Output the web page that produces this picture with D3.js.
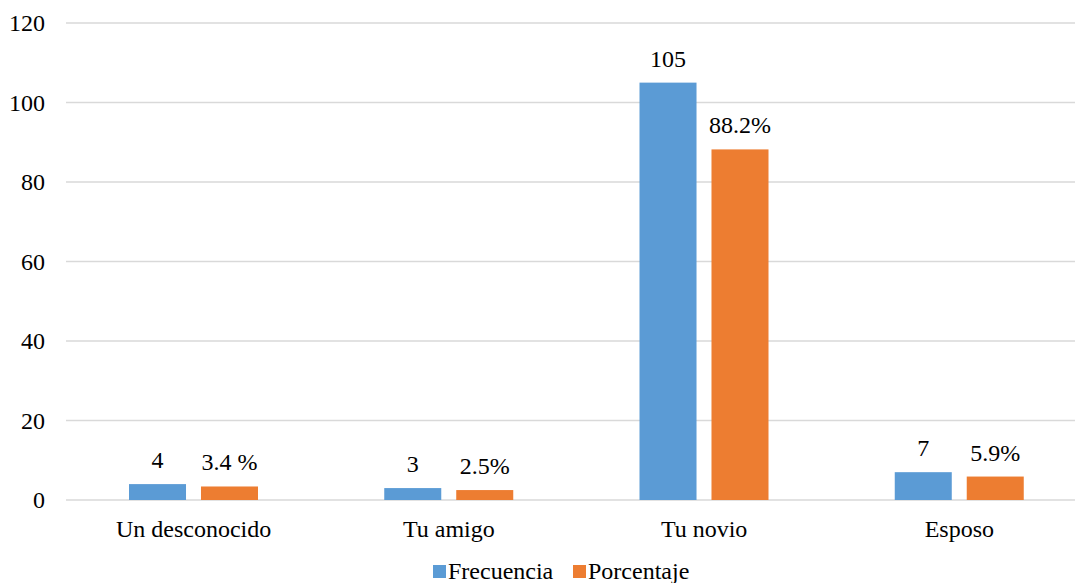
<!DOCTYPE html>
<html>
<head>
<meta charset="utf-8">
<script src="https://cdn.jsdelivr.net/npm/d3@7"></script>
<style>
  body { margin: 0; background: #fff; }
</style>
</head>
<body>
<div class="grafico"></div>
<script>
const categories = ["Un desconocido", "Tu amigo", "Tu novio", "Esposo"];
const seriesNames = ["Frecuencia", "Porcentaje"];
const frecuencia = [4, 3, 105, 7];
const porcentaje = [3.4, 2.5, 88.2, 5.9];
const frecLabels = ["4", "3", "105", "7"];
const porcLabels = ["3.4 %", "2.5%", "88.2%", "5.9%"];
const yTicks = [0, 20, 40, 60, 80, 100, 120];

const width = 1075, height = 583;
const colors = ["#5B9BD5", "#ED7D31"];
const font = "Liberation Serif";
const fontSize = 24;

const svg = d3.select(".grafico")
    .append("svg")
    .attr("width", width)
    .attr("height", height);

const x = d3.scaleBand()
    .domain(categories)
    .range([66, 1087]);

const x1 = d3.scaleBand()
    .domain(seriesNames)
    .range([63, 192])
    .paddingInner(0.208);

const y = d3.scaleLinear()
    .domain([0, 120])
    .range([500, 23]);

// gridlines
svg.append("g")
    .selectAll("line")
    .data(yTicks)
    .join("line")
    .attr("x1", 66)
    .attr("x2", width)
    .attr("y1", d => y(d))
    .attr("y2", d => y(d))
    .attr("stroke", "#d9d9d9")
    .attr("stroke-width", 1.5);

// y axis labels
svg.append("g")
    .selectAll("text")
    .data(yTicks)
    .join("text")
    .attr("x", 45)
    .attr("y", d => y(d) + 8)
    .attr("text-anchor", "end")
    .attr("font-family", font)
    .attr("font-size", fontSize)
    .text(d => d);

const rows = categories.map((c, i) => ({
    cat: c,
    vals: [
        { s: seriesNames[0], v: frecuencia[i], label: frecLabels[i] },
        { s: seriesNames[1], v: porcentaje[i], label: porcLabels[i] }
    ]
}));

const groups = svg.append("g")
    .selectAll("g")
    .data(rows)
    .join("g")
    .attr("transform", d => `translate(${x(d.cat)},0)`);

groups.selectAll("rect")
    .data(d => d.vals)
    .join("rect")
    .attr("x", d => x1(d.s))
    .attr("width", x1.bandwidth())
    .attr("y", d => y(d.v))
    .attr("height", d => y(0) - y(d.v))
    .attr("fill", (d, i) => colors[i]);

groups.selectAll("text")
    .data(d => d.vals)
    .join("text")
    .attr("x", d => x1(d.s) + x1.bandwidth() / 2)
    .attr("y", d => y(d.v) - 16)
    .attr("text-anchor", "middle")
    .attr("font-family", font)
    .attr("font-size", fontSize)
    .text(d => d.label);

// category labels
svg.append("g")
    .selectAll("text")
    .data(categories)
    .join("text")
    .attr("x", d => x(d) + x.bandwidth() / 2)
    .attr("y", 537)
    .attr("text-anchor", "middle")
    .attr("font-family", font)
    .attr("font-size", fontSize)
    .text(d => d);

// legend
const legend = svg.append("g");
const legendX = [433, 573];
seriesNames.forEach((s, i) => {
    legend.append("rect")
        .attr("x", legendX[i])
        .attr("y", 565)
        .attr("width", 13)
        .attr("height", 13)
        .attr("fill", colors[i]);
    legend.append("text")
        .attr("x", legendX[i] + 15)
        .attr("y", 579)
        .attr("font-family", font)
        .attr("font-size", fontSize)
        .text(s);
});
</script>
</body>
</html>
